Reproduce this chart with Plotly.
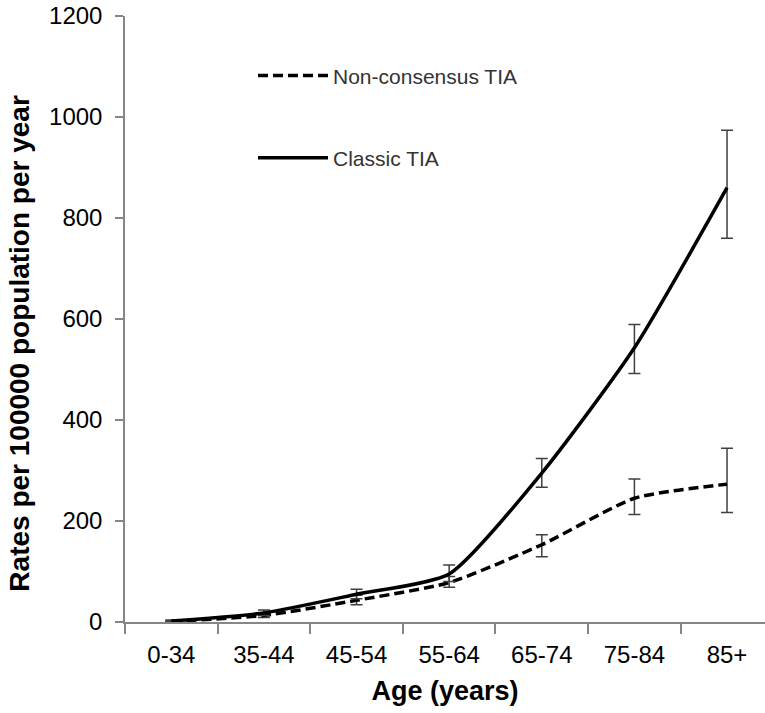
import plotly.graph_objects as go

age_groups = ["0-34", "35-44", "45-54", "55-64", "65-74", "75-84", "85+"]

classic_rate = [2, 18, 55, 95, 295, 543, 860]
classic_upper = [4, 24, 65, 113, 324, 589, 974]
classic_lower = [1, 13, 46, 80, 267, 492, 760]

noncons_rate = [1, 13, 43, 78, 153, 245, 273]
noncons_upper = [2, 18, 53, 90, 173, 283, 344]
noncons_lower = [0.5, 9, 34, 69, 129, 213, 217]

y_ticks = [0, 200, 400, 600, 800, 1000, 1200]

FONT = "Liberation Sans, Arial, sans-serif"
ERR_COLOR = "#404040"
AXIS_COLOR = "#868686"


def err(rate, up, lo):
    return dict(
        type="data",
        symmetric=False,
        array=[u - r for u, r in zip(up, rate)],
        arrayminus=[r - l for r, l in zip(rate, lo)],
        color=ERR_COLOR,
        thickness=1.5,
        width=6,
    )


fig = go.Figure()
fig.add_trace(go.Scatter(
    x=age_groups, y=noncons_rate, name="Non-consensus TIA",
    mode="lines", line=dict(color="black", width=3.5, dash="10px,5px", shape="spline", smoothing=0.6),
    error_y=err(noncons_rate, noncons_upper, noncons_lower),
    legendgroup="a",
))
fig.add_trace(go.Scatter(
    x=age_groups, y=classic_rate, name="Classic TIA",
    mode="lines", line=dict(color="black", width=3.5, shape="spline", smoothing=0.6),
    error_y=err(classic_rate, classic_upper, classic_lower),
    legendgroup="b",
))

fig.update_layout(
    width=765, height=713,
    margin=dict(l=125, r=0, t=16, b=91),
    paper_bgcolor="white", plot_bgcolor="white",
    font=dict(family=FONT, color="black"),
    showlegend=True,
    legend=dict(
        x=0.2, y=0.935, xanchor="left", yanchor="top",
        font=dict(size=21, family=FONT, color="#333333"),
        itemwidth=70, tracegroupgap=52,
        bgcolor="rgba(0,0,0,0)",
    ),
    xaxis=dict(
        range=[-0.5, 6.41], showline=True, linecolor=AXIS_COLOR, linewidth=1.5,
        ticks="outside", tickson="boundaries", ticklen=10, tickcolor=AXIS_COLOR, tickwidth=1.5,
        tickfont=dict(size=24, family=FONT, color="black"), ticklabelstandoff=10,
        title=dict(text="<b>Age (years)</b>", font=dict(size=27, family=FONT, color="black"), standoff=15),
        showgrid=False, zeroline=False,
    ),
    yaxis=dict(
        range=[0, 1200], tickvals=y_ticks, showline=True, linecolor=AXIS_COLOR, linewidth=1.5,
        ticks="outside", ticklen=8, tickcolor=AXIS_COLOR, tickwidth=1.5,
        tickfont=dict(size=24, family=FONT, color="black"), ticklabelstandoff=8,
        showgrid=False, zeroline=False,
    ),
    annotations=[dict(
        text="<b>Rates per 100000 population per year</b>",
        textangle=-90, xref="paper", yref="paper",
        x=-0.165, y=0.46, xanchor="center", yanchor="middle",
        showarrow=False, font=dict(size=28, family=FONT, color="black"),
    )],
)

fig.write_html("out.html")
